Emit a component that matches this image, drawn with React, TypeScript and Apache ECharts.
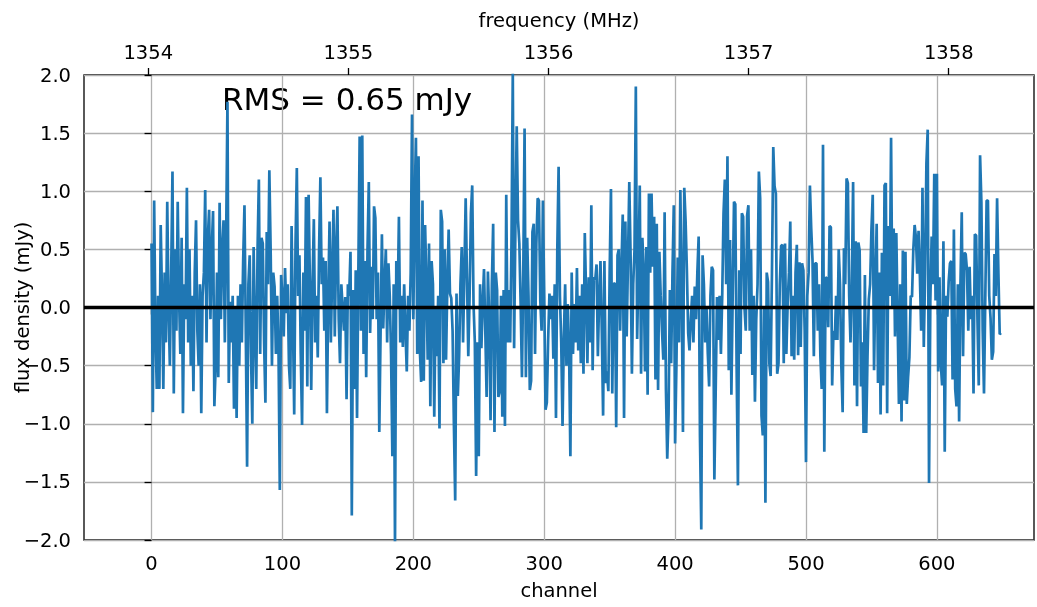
import React, { useEffect, useRef } from 'react';
import * as echarts from 'echarts';

// flux density (mJy) per channel, in consecutive blocks
const flux000 = [0.55,-0.9,0.92,-0.2,-0.7,0.1,-0.7,0.71,0.1,-0.7,
 0.3,-0.3,0.91,0.0,-0.5,0.3,1.17,-0.74,0.5,-0.2,
 0.91,0.1,-0.4,0.6,-0.91,0.2,-0.1,1.03,-0.3,0.5,
 -0.5,0.1,-0.72,0.3,0.75,-0.2,-0.5,0.2,-0.91,0.1,
 0.3,1.01,-0.3,0.6,0.84,-0.1,0.5,0.83,-0.85,-0.5];
const flux050 = [0.3,-0.6,0.9,-0.1,0.5,0.75,-0.3,0.6,1.77,-0.65,
 0.05,-0.3,0.1,-0.87,0.0,-0.95,0.1,-0.5,0.2,-0.3,
 0.4,0.88,-0.2,-1.37,0.2,0.45,-0.4,-1.0,0.52,-0.2,
 -0.7,0.5,1.1,-0.4,0.6,0.55,-0.3,-0.82,0.65,0.2,
 1.18,0.5,-0.5,0.3,0.18,-0.4,0.1,-0.35,-1.57,0.28,
 0.1,-0.25,0.34,-0.05,0.2,-0.5];
const flux106 = [-0.7,0.7,-0.1,-0.92,0.55,1.2,0.1,0.45,-0.4,-1.01,
 0.3,-0.2,0.95,-0.68,0.97,0.2,-0.71,0.2,0.76,-0.3,
 0.1,-0.43,0.5,1.12,0.2,0.43,-0.2,0.4,-0.91,0.1,
 0.74,-0.3,0.3,0.84,-0.25,0.5,0.87,-0.1,-0.48,0.2,
 0.0,-0.2,0.09,-0.79,0.2,0.1,0.48,-1.79,0.15,-0.7,
 0.32,-0.95,0.3,1.47,-0.2];
const flux161 = [1.48,-0.4,0.4,-0.6,0.5,1.08,-0.22,0.35,-0.1,0.87,
 0.77,-0.1,0.3,-1.07,-0.2,0.63,-0.18,0.2,0.5,-0.3,
 0.38,0.1,-0.4,-1.28,0.2,-2.05,0.4,0.0,0.78,-0.3,
 0.1,-0.34,0.2,-0.2,-0.55,0.1,-0.2,0.3,1.66,-0.1,
 0.9,1.46,-0.4,1.3,-0.37,-0.64,0.92,-0.63,0.71,0.2,
 -0.45,0.55,-0.85,0.4,0.2];
const flux216 = [-0.94,0.0,-0.42,0.1,-1.04,0.84,0.74,-0.48,0.5,-0.45,
 0.2,0.67,0.12,0.08,-0.2,-1.0,-1.66,0.12,-0.76,-0.42,
 0.2,0.52,-0.3,0.3,0.94,0.26,-0.42,0.1,0.81,1.05,
 0.03,-0.3,-1.45,-0.3,-1.28,0.2,-0.35,0.03,0.33,-0.2,
 -0.77,0.31,-0.1,-0.97,0.2,0.72,-1.07,0.3,0.15,-0.77];
const flux266 = [-0.72,0.1,-0.94,0.15,-1.02,0.97,-0.3,0.15,-0.3,0.55,
 2.03,-0.35,0.7,1.56,0.75,0.55,0.03,-0.6,0.3,1.54,
 -0.6,0.6,0.1,-0.71,-0.63,0.65,0.72,-0.4,0.55,0.94,
 0.92,0.06,-0.2,0.92,0.1,-0.88,-0.82,-0.28,0.12,-0.1,
 0.1,-0.44,0.2,-0.95,0.5,1.21,0.1,-0.3,-1.02,-0.25,
 0.2,-0.5,0.03,-0.37,-1.28,0.3];
const flux322 = [-0.4,0.03,-0.3,0.34,-0.37,0.1,-0.48,0.2,-0.57,0.64,
 0.12,-0.48,0.26,-0.3,0.88,-0.54,0.26,0.24,0.37,-0.42,
 0.1,0.4,-0.2,-0.93,0.4,-0.65,-0.55,-0.72,0.3,1.02,
 -0.74,0.2,0.21,-1.03,0.45,0.5,-0.2,0.34,0.8,-0.95,
 0.74,-0.25,0.4,1.08,0.44,-0.57,0.2,0.5,1.9,-0.27,
 0.3,1.05,-0.57,0.6,0.32];
const flux377 = [-0.55,0.52,-0.75,0.98,0.3,0.98,0.35,0.78,-0.62,0.72,
 -0.71,0.48,0.1,-0.2,-0.45,0.82,-0.7,-1.3,-0.92,0.15,
 -0.48,0.3,0.88,-1.17,-0.5,0.43,-0.3,1.01,0.2,-1.07,
 1.03,0.75,0.32,-0.22,-0.37,-0.1,0.1,-0.3,0.18,-0.1,
 0.3,0.61,-1.11,-1.91,0.45,0.2,-0.3,0.0,-0.4,-0.68,
 0.1,0.35,0.32,-1.48,-0.73,0.09];
const flux433 = [-0.28,0.1,-0.4,0.1,0.81,1.1,0.2,1.3,-0.54,0.58,
 -0.75,0.1,0.91,0.89,-0.5,-1.53,0.32,-0.4,0.81,0.78,
 0.0,-0.2,0.79,0.88,-0.2,0.5,-0.58,0.1,-0.81,-0.1,
 0.2,1.17,0.94,-0.93,-1.1,0.0,-1.68,0.3,0.22,-0.48,
 -0.59,0.3,1.38,1.04,0.98,-0.57,-0.48,0.2,0.53,0.54,
 -0.48,0.55,-0.4];
const flux486 = [0.04,0.3,0.74,-0.42,0.1,-0.45,0.3,0.54,-0.41,0.39,
 -0.34,0.38,0.32,-0.2,-1.33,0.1,0.3,1.05,0.68,0.4,
 -0.42,0.38,0.38,-0.2,0.2,-0.42,-0.7,1.4,-1.24,0.26,
 0.25,-0.17,0.7,0.69,-0.67,-0.2,-0.28,0.1,-0.28,0.5,
 0.2,-0.5,-0.9,0.51,0.2,1.11,1.07,0.1,-0.3,0.2,
 1.08,-0.67,0.57,-0.85,0.56,0.49,-0.68,-0.3,-1.08];
const flux545 = [0.28,-1.08,-0.42,0.07,0.2,0.67,0.97,-0.54,0.2,0.72,
 -0.65,0.3,-0.92,0.47,-0.67,1.05,1.07,-0.91,0.7,0.1,
 1.46,-0.01,0.68,-0.25,0.64,-0.1,-0.83,0.2,-0.98,0.49,
 -0.8,0.48,-0.83,-0.6,-0.43,0.1,0.09,0.5,0.71,0.6,
 0.29,0.66,0.28,-0.2,1.03,-0.34,0.3,1.24,1.53,-1.51,
 0.06,0.61,0.2,1.15,0.06];
const flux600 = [1.15,-0.55,0.26,-0.48,-0.67,0.57,-1.24,0.1,-0.08,0.22,
 0.38,0.4,-0.62,0.67,-0.7,-0.85,0.2,-0.98,0.19,0.82,
 -0.42,0.47,0.46,0.32,-0.2,0.35,-0.1,0.1,-0.74,0.63,
 0.62,-0.1,-0.67,1.31,0.91,-0.2,-0.74,0.09,0.92,0.92,
 0.1,-0.09,-0.45,-0.38,0.46,0.1,0.94,0.3,-0.23,-0.22];

const flux = [
  ...flux000, ...flux050, ...flux106, ...flux161, ...flux216, ...flux266,
  ...flux322, ...flux377, ...flux433, ...flux486, ...flux545, ...flux600,
];

const channelTicks = [0, 100, 200, 300, 400, 500, 600];
const freqTicks = [1354, 1355, 1356, 1357, 1358];
const channelRange = [-51.6, 674.2];
const freqRange = [1353.679, 1358.426];
const fluxRange = [-2, 2];
const fluxInterval = 0.5;
const rmsText = 'RMS = 0.65 mJy';

const FONT = 'DejaVu Sans';
const fmtMinus = (s: string) => s.replace('-', '\u2212');

export default function App() {
  const ref = useRef<HTMLDivElement>(null);
  useEffect(() => {
    if (!ref.current) return;
    const chart = echarts.init(ref.current, undefined, { renderer: 'svg' });
    const textBase = { color: '#000', fontFamily: FONT, fontSize: 19.5 };
    chart.setOption({
      animation: false,
      grid: {
        left: 84, right: 3, top: 75, bottom: 67,
        show: true, borderColor: '#000', borderWidth: 1.3,
        backgroundColor: 'transparent', containLabel: false,
        outerBoundsMode: 'none',
      },
      xAxis: [
        {
          type: 'value', position: 'bottom',
          min: channelRange[0], max: channelRange[1],
          name: 'channel', nameLocation: 'middle', nameGap: 40,
          nameTextStyle: { ...textBase },
          axisLine: { show: false },
          axisTick: { show: true, customValues: channelTicks, length: 7, lineStyle: { color: '#000', width: 1.3 } },
          axisLabel: { ...textBase, customValues: channelTicks, margin: 13, formatter: (v: number) => fmtMinus(String(v)) },
          splitLine: { show: true, lineStyle: { color: '#b0b0b0', width: 1.3 } },
        },
        {
          type: 'value', position: 'top',
          min: freqRange[0], max: freqRange[1],
          name: 'frequency (MHz)', nameLocation: 'middle', nameGap: 45,
          nameTextStyle: { ...textBase },
          axisLine: { show: false },
          axisTick: { show: true, customValues: freqTicks, length: 7, lineStyle: { color: '#000', width: 1.3 } },
          axisLabel: { ...textBase, customValues: freqTicks, margin: 13, formatter: (v: number) => String(v) },
          splitLine: { show: false },
        },
      ],
      yAxis: {
        type: 'value',
        min: fluxRange[0], max: fluxRange[1], interval: fluxInterval,
        name: 'flux density (mJy)', nameLocation: 'middle', nameGap: 52, nameRotate: 90,
        nameTextStyle: { ...textBase },
        axisLine: { show: false },
        axisTick: { show: true, length: 7, lineStyle: { color: '#000', width: 1.3 } },
        axisLabel: { ...textBase, margin: 13, formatter: (v: number) => fmtMinus(v.toFixed(1)) },
        splitLine: { show: true, lineStyle: { color: '#b0b0b0', width: 1.3 } },
      },
      series: [
        {
          type: 'line',
          xAxisIndex: 0,
          data: flux.map((v, i) => [i, v]),
          showSymbol: false,
          clip: true,
          lineStyle: { color: '#1f77b4', width: 2.7 },
          itemStyle: { color: '#1f77b4' },
          markLine: {
            silent: true,
            symbol: ['none', 'none'],
            label: { show: false },
            lineStyle: { color: '#000', width: 3.3, type: 'solid' },
            data: [{ yAxis: 0 }],
          },
        },
      ],
      graphic: [
        {
          type: 'text', left: 222, top: 83,
          style: { text: rmsText, fill: '#000', font: `31px "${FONT}"` },
        },
        {
          type: 'text', rotation: Math.PI / 2, x: 22, y: 307.5,
          style: {
            text: 'flux density (mJy)', fill: '#000', font: `19.5px "${FONT}"`,
            align: 'center', verticalAlign: 'middle',
          },
        },
      ],
    });
    // the y-axis name is drawn by the graphic text above (placed like the reference)
    chart.setOption({ yAxis: { name: '' } });
    return () => chart.dispose();
  }, []);
  return <div ref={ref} style={{ position: 'fixed', left: 0, top: 0, width: 1037, height: 607 }} />;
}
